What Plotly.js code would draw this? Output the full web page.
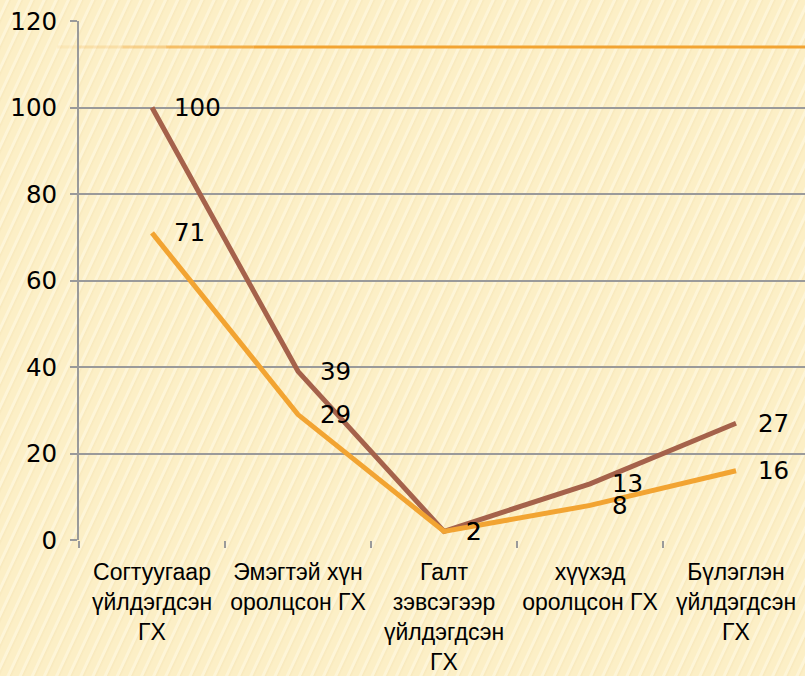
<!DOCTYPE html>
<html>
<head>
<meta charset="utf-8">
<script src="https://cdn.plot.ly/plotly-3.0.1.min.js"></script>
<style>
  html, body { margin:0; padding:0; }
  body {
    width:805px; height:676px; overflow:hidden;
    background-color:#FCEFC6;
    background-image: repeating-linear-gradient(115deg,
      rgba(255,255,240,0.0) 0px, rgba(255,255,240,0.0) 5px,
      rgba(255,250,230,0.55) 6px, rgba(255,250,230,0.55) 8px,
      rgba(230,205,150,0.18) 9px, rgba(230,205,150,0.0) 11px);
  }
  #chart { width:805px; height:676px; }
</style>
</head>
<body>
<div id="chart"></div>
<script>
const categories = [
  "Согтуугаар<br>үйлдэгдсэн<br>ГХ",
  "Эмэгтэй хүн<br>оролцсон ГХ",
  "Галт<br>зэвсэгээр<br>үйлдэгдсэн<br>ГХ",
  "хүүхэд<br>оролцсон ГХ",
  "Бүлэглэн<br>үйлдэгдсэн<br>ГХ"
];
const seriesBrown = [100, 39, 2, 13, 27];
const seriesOrange = [71, 29, 2, 8, 16];
const yTicks = [0, 20, 40, 60, 80, 100, 120];
const refLineValue = 114;

const brown = "#A5624B";
const orange = "#F2A432";
const numFont = "'DejaVu Sans', sans-serif";
const txtFont = "'Liberation Sans', Arial, sans-serif";

const traces = [
  { x: categories, y: seriesBrown, type: "scatter", mode: "lines",
    line: { color: brown, width: 5 }, hoverinfo: "skip", showlegend: false },
  { x: categories, y: seriesOrange, type: "scatter", mode: "lines",
    line: { color: orange, width: 5 }, hoverinfo: "skip", showlegend: false }
];

const annotations = [];
[seriesBrown, seriesOrange].forEach(s => {
  s.forEach((v, i) => {
    annotations.push({ x: categories[i], y: v, text: String(v), showarrow: false,
      xanchor: "left", yanchor: "middle", xshift: 20, yshift: 0,
      font: { family: numFont, size: 24.5, color: "#000" } });
  });
});

// faded decorative reference line
const shapes = [];
const segs = [[-0.03, 0.0, 0.1], [0.0, 0.06, 0.2], [0.06, 0.12, 0.4], [0.12, 0.18, 0.65], [0.18, 0.24, 0.85], [0.24, 1.0, 1]];
segs.forEach(([a, b, o]) => {
  shapes.push({ type: "line", xref: "paper", yref: "y", x0: a, x1: b, y0: refLineValue, y1: refLineValue,
    line: { color: orange, width: 3 }, opacity: o, layer: "below" });
});

const layout = {
  width: 805, height: 676,
  margin: { l: 79, r: 0, t: 21, b: 136 },
  paper_bgcolor: "rgba(0,0,0,0)",
  plot_bgcolor: "rgba(0,0,0,0)",
  showlegend: false,
  xaxis: {
    type: "category",
    range: [-0.5, 4.4726],
    tickson: "boundaries",
    ticks: "outside", ticklen: 7, tickcolor: "#9A9A9A", tickwidth: 2,
    showgrid: false, showline: false, zeroline: false,
    tickfont: { family: txtFont, size: 23, color: "#000" },
    ticklabelstandoff: 16,
    tickangle: 0
  },
  yaxis: {
    range: [0, 120],
    tickvals: yTicks,
    ticks: "outside", ticklen: 7, tickcolor: "#9A9A9A", tickwidth: 2,
    showgrid: true, gridcolor: "#9A9A9A", gridwidth: 2,
    showline: true, linecolor: "#9A9A9A", linewidth: 2,
    zeroline: false,
    tickfont: { family: numFont, size: 24.5, color: "#000" },
    ticklabelstandoff: 8
  },
  annotations: annotations,
  shapes: shapes
};

Plotly.newPlot("chart", traces, layout, { staticPlot: true, displayModeBar: false });
</script>
</body>
</html>
